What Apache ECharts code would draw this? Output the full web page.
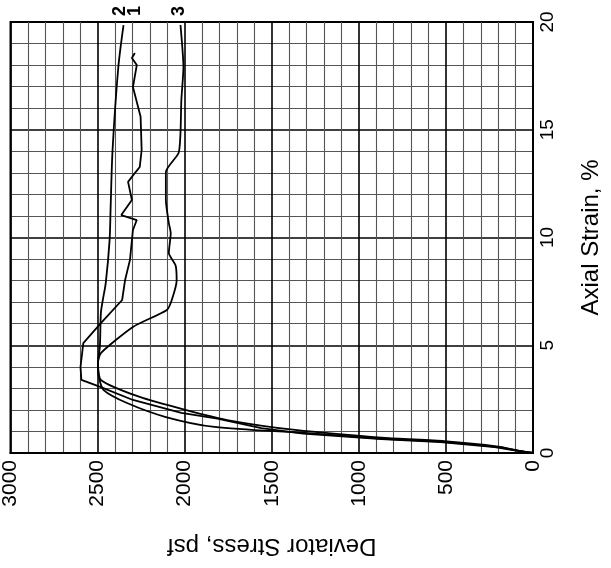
<!DOCTYPE html>
<html>
<head>
<meta charset="utf-8">
<script src="https://cdn.jsdelivr.net/npm/echarts@6/dist/echarts.min.js"></script>
<style>
html,body{margin:0;padding:0;background:#fff;}
#chart{width:611px;height:568px;}
</style>
</head>
<body>
<div id="chart"></div>
<script>
// Curve 1 (kinked peak, jagged tail)
var curve1Stress = [0, 90, 220, 530, 870, 1320, 1560, 1812, 2019, 2297, 2481, 2593, 2598, 2582, 2481, 2359, 2342, 2314, 2297, 2275, 2364, 2303, 2325, 2286, 2258, 2247, 2253, 2297, 2275, 2303, 2286];
var curve1Strain = [0, 0.1, 0.27, 0.5, 0.64, 0.9, 1.15, 1.6, 1.86, 2.46, 3.06, 3.39, 3.99, 5.1, 6.03, 7.1, 8.03, 8.96, 10.35, 10.81, 11.04, 11.74, 12.58, 12.99, 13.27, 14.06, 15.6, 16.98, 18.0, 18.33, 18.56];
// Curve 2 (smooth, round peak)
var curve2Stress = [0, 80, 210, 520, 860, 1310, 1829, 2108, 2331, 2465, 2492, 2498, 2487, 2481, 2470, 2453, 2431, 2425, 2414, 2381, 2351];
var curve2Strain = [0, 0.1, 0.28, 0.52, 0.66, 0.93, 1.21, 1.67, 2.32, 2.92, 3.53, 4.18, 4.92, 6.5, 7.1, 7.89, 9.88, 11.42, 14.06, 17.9, 19.86];
// Curve 3 (peak then softening)
var curve3Stress = [0, 80, 200, 510, 850, 1366, 1756, 1996, 2258, 2481, 2498, 2481, 2297, 2102, 2074, 2046, 2052, 2091, 2080, 2091, 2108, 2108, 2035, 2024, 2019, 2007, 2024];
var curve3Strain = [0, 0.11, 0.3, 0.55, 0.7, 1.07, 1.53, 2.0, 2.6, 3.39, 4.18, 4.64, 5.85, 6.64, 7.1, 8.0, 8.7, 9.28, 10.2, 10.67, 11.74, 13.04, 13.92, 14.85, 16.38, 17.9, 19.86];
var curveNames = ['1', '2', '3'];
var curveLabelStress = [2286, 2370, 2030];
var stressTicks = [0, 500, 1000, 1500, 2000, 2500, 3000];
var strainTicks = [0, 5, 10, 15, 20];

function pairs(s, e) { return s.map(function (v, i) { return [v, e[i]]; }); }

var FONT = '"Liberation Sans", Arial, sans-serif';
var chart = echarts.init(document.getElementById('chart'), null, {renderer: 'canvas'});

function mkSeries(idx, stress, strain, smooth) {
  return {
    name: curveNames[idx],
    type: 'line',
    data: pairs(stress, strain),
    showSymbol: false,
    smooth: smooth,
    lineStyle: {color: '#000', width: 1.8},
    clip: false,
    markPoint: {
      symbol: 'circle', symbolSize: 0,
      label: {show: true, position: 'inside', formatter: curveNames[idx], rotate: 90, color: '#000', fontSize: 18, fontFamily: FONT, fontWeight: 'bold', offset: [11, 0]},
      data: [{coord: [curveLabelStress[idx], 20]}]
    }
  };
}

chart.setOption({
  animation: false,
  backgroundColor: '#fff',
  grid: {left: 7, right: 66, top: 22, bottom: 115, show: true, borderColor: '#000', borderWidth: 2, backgroundColor: 'transparent'},
  xAxis: {
    type: 'value', min: 0, max: 3000, interval: 500, inverse: true,
    name: 'Deviator Stress, psf', nameLocation: 'middle', nameRotate: 180, nameGap: 81,
    nameTextStyle: {fontSize: 24, fontFamily: FONT, color: '#000'},
    axisLine: {show: true, lineStyle: {color: '#000', width: 2}},
    axisTick: {show: false},
    axisLabel: {rotate: 90, fontSize: 21, fontFamily: FONT, color: '#000', margin: 7,
      formatter: function (v) { return stressTicks.indexOf(v) >= 0 ? String(v) : ''; }},
    splitLine: {show: true, lineStyle: {color: '#000', width: 1.6}},
    minorTick: {show: false, splitNumber: 5},
    minorSplitLine: {show: true, lineStyle: {color: '#555', width: 1.1}}
  },
  yAxis: {
    type: 'value', min: 0, max: 20, interval: 5, position: 'right',
    name: 'Axial Strain, %', nameLocation: 'middle', nameRotate: 90, nameGap: 46,
    nameTextStyle: {fontSize: 24, fontFamily: FONT, color: '#000'},
    axisLine: {show: true, lineStyle: {color: '#000', width: 2}},
    axisTick: {show: false},
    axisLabel: {rotate: 90, fontSize: 19, fontFamily: FONT, color: '#000', margin: 5,
      formatter: function (v) { return strainTicks.indexOf(v) >= 0 ? String(v) : ''; }},
    splitLine: {show: true, lineStyle: {color: '#000', width: 1.6}},
    minorTick: {show: false, splitNumber: 5},
    minorSplitLine: {show: true, lineStyle: {color: '#555', width: 1.1}}
  },
  series: [
    mkSeries(0, curve1Stress, curve1Strain, false),
    mkSeries(1, curve2Stress, curve2Strain, 0.3),
    mkSeries(2, curve3Stress, curve3Strain, 0.2)
  ]
});
</script>
</body>
</html>
